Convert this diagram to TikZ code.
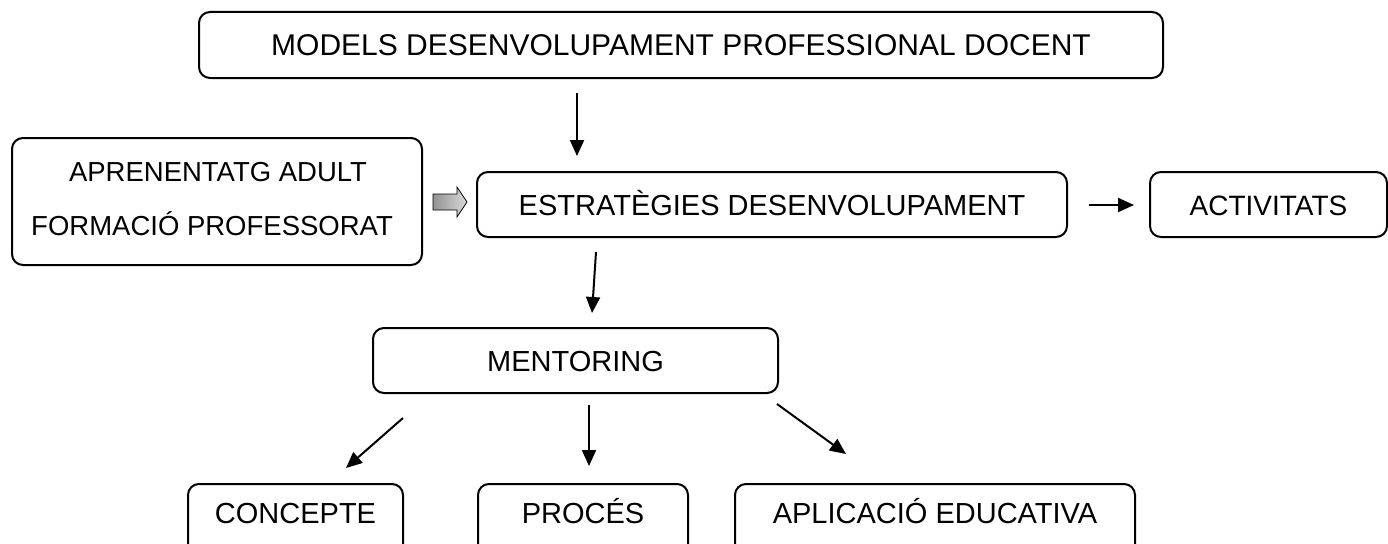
\documentclass[tikz,border=0pt]{standalone}
\usepackage{fontspec}
\setmainfont{Liberation Sans}
\usetikzlibrary{arrows.meta}
\begin{document}
\begin{tikzpicture}[x=1pt,y=-1pt,
  box/.style={draw=black, line width=2pt, rounded corners=11pt, inner sep=0pt,
    text height=21pt, text depth=0pt, font=\fontsize{29}{34}\selectfont},
  label/.style={inner sep=0pt, anchor=base, font=\fontsize{29}{34}\selectfont},
  arr/.style={line width=2pt, -{Triangle[length=16pt,width=14pt]}}]
\useasboundingbox (0,0) rectangle (1388,543);
\clip (0,0) rectangle (1388,543);

% boxes
\node[box, minimum width=964pt, minimum height=66pt, font=\fontsize{30}{34}\selectfont]
  (models) at (681,45) {MODELS DESENVOLUPAMENT PROFESSIONAL DOCENT};
\node[box, minimum width=410pt, minimum height=127pt] (adult) at (217,201.5) {};
\node[label, font=\fontsize{27.5}{32}\selectfont] (adult1) at (218,181) {APRENENTATG ADULT};
\node[label, font=\fontsize{27.5}{32}\selectfont] (adult2) at (212,235) {FORMACIÓ PROFESSORAT};
\node[box, minimum width=590pt, minimum height=65pt] (estr) at (772,204.5)
  {ESTRATÈGIES DESENVOLUPAMENT};
\node[box, minimum width=237pt, minimum height=65pt, font=\fontsize{28}{34}\selectfont]
  (activ) at (1268.5,204.5) {ACTIVITATS};
\node[box, minimum width=405pt, minimum height=65pt] (ment) at (575.5,360.5)
  {MENTORING};
\node[box, minimum width=215pt, minimum height=110pt, anchor=north] (conc) at (295.5,483) {};
\node[box, minimum width=210pt, minimum height=110pt, anchor=north] (proc) at (583,483) {};
\node[box, minimum width=400pt, minimum height=110pt, anchor=north] (aplic) at (935,483) {};
\node[label] (concT) at (conc.north |- 0,523) {CONCEPTE};
\node[label] (procT) at (proc.north |- 0,523) {PROCÉS};
\node[label] (aplicT) at (aplic.north |- 0,523) {APLICACIÓ EDUCATIVA};

% hollow block arrow between the left box and the strategies box
\shade[left color=gray!85, right color=gray!30, draw=black, line width=0.8pt]
  (433,194) -- (457,194) -- (457,187) -- (467,202) -- (457,217) -- (457,210)
  -- (433,210) -- cycle;

% connectors
\path (577,93) coordinate (s1) (577,156) coordinate (e1)
      (1089,205) coordinate (s2) (1134,205) coordinate (e2)
      (596,252) coordinate (s3) (592,313) coordinate (e3)
      (403,418) coordinate (s4) (346,468) coordinate (e4)
      (589,405) coordinate (s5) (589,466) coordinate (e5)
      (777,404) coordinate (s6) (846,454) coordinate (e6);
\draw[arr] (s1) -- (e1);
\draw[arr] (s2) -- (e2);
\draw[arr] (s3) -- (e3);
\draw[arr] (s4) -- (e4);
\draw[arr] (s5) -- (e5);
\draw[arr] (s6) -- (e6);
\end{tikzpicture}
\end{document}
